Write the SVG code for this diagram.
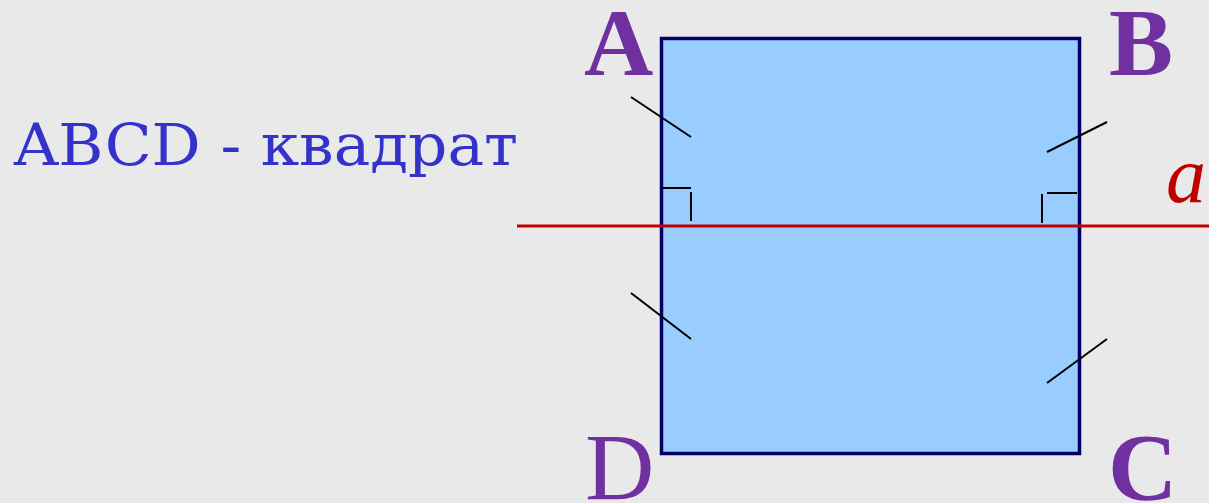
<svg xmlns="http://www.w3.org/2000/svg" width="1209" height="503" viewBox="0 0 1209 503">
<style>
.tick{stroke:#000;stroke-width:2;fill:none}
.lbl{font-family:"Liberation Serif","DejaVu Serif",serif;fill:#7030A0;font-size:96px}
</style>
<rect width="1209" height="503" fill="#E9E9E9"/>
<g id="square">
<rect x="661.5" y="38.5" width="418" height="415" fill="#99CCFF" stroke="#000066" stroke-width="3.5"/>
</g>
<g id="line-a">
<line x1="517" y1="226" x2="1209" y2="226" stroke="#C00000" stroke-width="3"/>
<text x="1166" y="202" font-family="Liberation Serif,serif" font-style="italic" font-size="80" fill="#C00000">a</text>
</g>
<g id="marks">
<line class="tick" x1="631" y1="97" x2="691" y2="137"/>
<line class="tick" x1="631" y1="293" x2="691" y2="339"/>
<line class="tick" x1="1047" y1="152" x2="1107" y2="122"/>
<line class="tick" x1="1047" y1="383" x2="1107" y2="339"/>
<line class="tick" x1="662" y1="188" x2="691" y2="188"/>
<line class="tick" x1="691" y1="192" x2="691" y2="221"/>
<line class="tick" x1="1047" y1="193" x2="1077" y2="193"/>
<line class="tick" x1="1042" y1="194" x2="1042" y2="223"/>
</g>
<g id="label-A"><text class="lbl" x="584" y="75" font-weight="bold">A</text></g>
<g id="label-B"><text class="lbl" x="1109" y="75" font-weight="bold">B</text></g>
<g id="label-C"><text class="lbl" x="1108" y="500" font-weight="bold">C</text></g>
<g id="label-D"><text class="lbl" x="585" y="500">D</text></g>
<g id="caption">
<text x="14" y="165" font-family="DejaVu Serif,serif" font-size="58" fill="#3333CC" textLength="504" lengthAdjust="spacingAndGlyphs">ABCD - квадрат</text>
</g>
</svg>
